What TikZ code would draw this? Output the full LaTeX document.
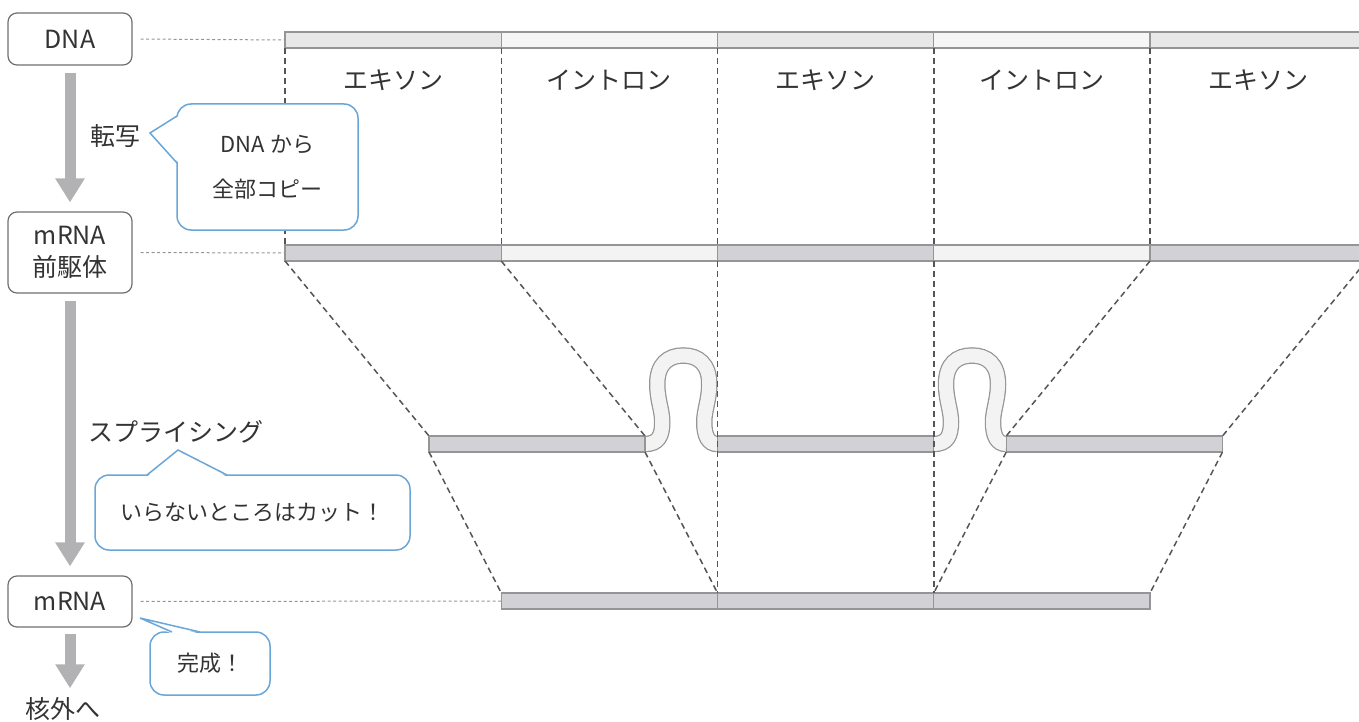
\documentclass[tikz,border=0pt]{standalone}
\usepackage{fontspec}
\setmainfont{Noto Sans CJK JP}
\usetikzlibrary{arrows.meta}
\definecolor{txt}{HTML}{333333}
\definecolor{boxline}{HTML}{707070}
\definecolor{flowgray}{HTML}{B2B2B4}
\definecolor{barline}{HTML}{959595}
\definecolor{dnaex}{HTML}{E8E8E8}
\definecolor{dnain}{HTML}{F6F6F6}
\definecolor{exfill}{HTML}{D2D2D6}
\definecolor{infill}{HTML}{F3F3F3}
\definecolor{bubble}{HTML}{6AA6D8}
\definecolor{cutgray}{HTML}{555555}
\tikzset{
	stagebox/.style={draw=boxline,line width=1.2pt,rounded corners=9pt,fill=white,minimum width=124pt,inner sep=0pt,text=txt,align=center,font=\fontsize{25}{32}\selectfont},
	word/.style={text=txt,inner sep=0pt,font=\fontsize{25}{30}\selectfont},
	flow/.style={draw=flowgray,line width=11pt,-{Triangle[width=28pt,length=24pt]},shorten <=7pt,shorten >=9pt},
	bar/.style={draw=barline,line width=1.2pt,minimum width=216.25pt,minimum height=16pt,inner sep=0pt,outer sep=0pt,anchor=west},
	guide/.style={draw=barline,line width=1pt,dash pattern=on 3pt off 2.5pt,shorten <=8pt},
	cut/.style={draw=cutgray,line width=1.5pt,dash pattern=on 6pt off 4pt},
	callout/.style={draw=bubble,line width=1.5pt,rounded corners=14pt,fill=white,inner sep=0pt,text=txt,align=center,font=\fontsize{22}{45}\selectfont},
	pointer/.style={draw=bubble,line width=1.5pt,line join=miter}
}
\begin{document}
\begin{tikzpicture}[x=1pt,y=-1pt]
	\useasboundingbox (0,0) rectangle (1359,722);
	\clip (0,0) rectangle (1359,722);

	\node[stagebox,minimum height=52pt] (dna) at (70,39) {DNA};
	\node[stagebox,minimum height=81pt] (pre) at (70,252.5) {mRNA\\前駆体};
	\node[stagebox,minimum height=51pt] (mrna) at (70,601.5) {mRNA};
	\node[word] (out) at (63,709) {核外へ};
	\node[word] (tr) at (115,136) {転写};
	\node[word] (spl) at (176,432) {スプライシング};

	\draw[flow] (dna) -- (pre);
	\draw[flow] (pre) -- (mrna);
	\draw[flow,shorten <=6pt] (mrna.south) -- (mrna.south |- out.north);

	\node[bar,fill=dnaex] (d1) at (285,40) {};
	\node[bar,fill=dnain] (d2) at (d1.east) {};
	\node[bar,fill=dnaex] (d3) at (d2.east) {};
	\node[bar,fill=dnain] (d4) at (d3.east) {};
	\node[bar,fill=dnaex] (d5) at (d4.east) {};

	\node[word] (ex1) at (393.1,80) {エキソン};
	\node[word] (in1) at (609.4,80) {イントロン};
	\node[word] (ex2) at (825.6,80) {エキソン};
	\node[word] (in2) at (1041.9,80) {イントロン};
	\node[word] (ex3) at (1258.1,80) {エキソン};

	\node[bar,fill=exfill] (p1) at (285,253) {};
	\node[bar,fill=infill] (p2) at (p1.east) {};
	\node[bar,fill=exfill] (p3) at (p2.east) {};
	\node[bar,fill=infill] (p4) at (p3.east) {};
	\node[bar,fill=exfill] (p5) at (p4.east) {};

	\foreach \s in {681.25,970} {
		\begin{scope}[xshift=\s]
			\draw[barline,line width=16.5pt] (-36.25,444) .. controls (-23,444) and (-19,436) .. (-19,422)
				.. controls (-19,410) and (-24,400) .. (-24,384) .. controls (-24,364) and (-13,355.5) .. (2,355.5)
				.. controls (17,355.5) and (28,364) .. (28,384) .. controls (28,400) and (23,410) .. (23,422)
				.. controls (23,436) and (27,444) .. (36.25,444);
			\draw[infill,line width=14pt] (-36.25,444) .. controls (-23,444) and (-19,436) .. (-19,422)
				.. controls (-19,410) and (-24,400) .. (-24,384) .. controls (-24,364) and (-13,355.5) .. (2,355.5)
				.. controls (17,355.5) and (28,364) .. (28,384) .. controls (28,400) and (23,410) .. (23,422)
				.. controls (23,436) and (27,444) .. (36.25,444);
		\end{scope}
	}

	\node[bar,fill=exfill,minimum width=216pt] (s1) at (429,444) {};
	\node[bar,fill=exfill] (s2) at (717.5,444) {};
	\node[bar,fill=exfill] (s3) at (1006.25,444) {};

	\node[bar,fill=exfill] (m1) at (501.25,601) {};
	\node[bar,fill=exfill] (m2) at (m1.east) {};
	\node[bar,fill=exfill] (m3) at (m2.east) {};

	\draw[guide] (dna.east) -- (d1.west);
	\draw[guide] (pre.east) -- (p1.west);
	\draw[guide] (mrna.east) -- (m1.west);

	\foreach \i in {1,...,5}
		\draw[cut] (d\i.south west) -- (p\i.north west);
	\draw[cut] (p1.south west) -- (s1.north west);
	\draw[cut] (p2.south west) -- (s1.north east);
	\draw[cut] (p5.south west) -- (s3.north west);
	\draw[cut] (p5.south east) -- (s3.north east);
	\draw[cut] (p3.south west) -- (m2.north west);
	\draw[cut] (p4.south west) -- (m3.north west);
	\draw[cut] (s1.south west) -- (m1.north west);
	\draw[cut] (s1.south east) -- (m1.north east);
	\draw[cut] (s3.south west) -- (m3.north west);
	\draw[cut] (s3.south east) -- (m3.north east);

	\node[callout,minimum width=181pt,minimum height=126pt] (copy) at (267.5,167) {DNA から\\全部コピー};
	\coordinate (copytip) at (150,133);
	\fill[white] (178.8,116) -- (copytip) -- (178.8,163) -- cycle;
	\draw[pointer] (177,116) -- (copytip) -- (177,163);

	\node[callout,minimum width=315pt,minimum height=75pt] (cutnote) at (252.5,512.5) {いらないところはカット！};
	\coordinate (cuttip) at (178,450);
	\fill[white] (147,476.8) -- (cuttip) -- (227,476.8) -- cycle;
	\draw[pointer] (147,475) -- (cuttip) -- (227,475);

	\node[callout,minimum width=120pt,minimum height=63pt] (done) at (210,663.5) {完成！};
	\coordinate (donetip) at (140,618);
	\fill[white] (172,633.8) -- (donetip) -- (200,633.8) -- cycle;
	\draw[pointer] (172,632) -- (donetip) -- (200,632);
\end{tikzpicture}
\end{document}
